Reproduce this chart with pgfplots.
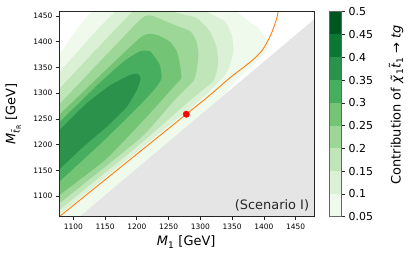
\documentclass[border=0pt]{standalone}
\usepackage{pgfplots}
\pgfplotsset{compat=1.18}
\usepackage{fontspec}
\setmainfont{DejaVu Sans}
\definecolor{ca}{RGB}{239,249,236}
\definecolor{cb}{RGB}{219,241,213}
\definecolor{cc}{RGB}{191,229,184}
\definecolor{cd}{RGB}{156,215,151}
\definecolor{ce}{RGB}{116,196,118}
\definecolor{cf}{RGB}{71,174,96}
\definecolor{cg}{RGB}{42,146,74}
\definecolor{ch}{RGB}{12,119,52}
\definecolor{ci}{RGB}{0,86,35}
\definecolor{grayreg}{RGB}{229,229,229}
\definecolor{orng}{RGB}{255,127,14}
\begin{document}
\begin{tikzpicture}
\begin{axis}[
  at={(0,0)}, anchor=south west,
  scale only axis, width=254.7bp, height=205bp,
  xmin=1078, xmax=1479, ymin=1060, ymax=1458,
  xtick={1100,1150,...,1450}, ytick={1100,1150,...,1450},
  tick pos=left, tick align=outside,
  major tick length=3.5bp,
  tick style={black!85, line width=0.6bp},
  axis line style={line width=0.8bp, black!85},
  ticklabel style={font=\fontsize{7.5}{9}\selectfont},
  /pgf/number format/assume math mode=true,
  /pgf/number format/set thousands separator={},
  axis on top,
  every axis plot/.append style={line join=round},
]
% region value >= 0.05
\addplot[fill=ca, draw=none, smooth, tension=0.3] coordinates {(1070,1364) (1078,1375) (1145,1470) (1355,1470) (1360,1455) (1391,1426) (1407,1400) (1404,1381) (1381,1352) (1360,1329) (1340,1299) (1330,1270) (1120,1040) (1070,1040)};
% >= 0.10
\addplot[fill=cb, draw=none, smooth, tension=0.3] coordinates {(1070,1330) (1078,1340) (1179,1470) (1305,1470) (1310,1458) (1339,1439) (1350,1410) (1352,1381) (1346,1352) (1339,1335) (1310,1298) (1278,1264) (1178,1164) (1078,1064) (1070,1056)};
% >= 0.15
\addplot[fill=cc, draw=none, smooth, tension=0.3] coordinates {(1070,1298) (1078,1308) (1204,1470) (1255,1470) (1257,1458) (1294,1446) (1315,1420) (1326,1387) (1328,1355) (1320,1323) (1284,1286) (1210,1206) (1078,1073) (1070,1065)};
% >= 0.20
\addplot[fill=cd, draw=none, smooth, tension=0.3] coordinates {(1070,1268) (1078,1278) (1205,1442) (1226,1449) (1252,1436) (1284,1420) (1294,1400) (1297,1374) (1294,1342) (1289,1323) (1270,1300) (1257,1283) (1205,1212) (1078,1086) (1070,1078)};
% >= 0.25
\addplot[fill=ce, draw=none, smooth, tension=0.3] coordinates {(1070,1250) (1078,1258) (1205,1407) (1231,1413) (1252,1400) (1263,1381) (1268,1355) (1270,1329) (1260,1315) (1237,1283) (1205,1240) (1150,1170) (1078,1102) (1070,1094)};
% >= 0.30
\addplot[fill=cf, draw=none, smooth, tension=0.3] coordinates {(1070,1234) (1078,1243) (1140,1318) (1180,1362) (1205,1381) (1221,1381) (1236,1355) (1239,1329) (1229,1309) (1205,1277) (1150,1210) (1078,1128) (1070,1120)};
% >= 0.35
\addplot[fill=cg, draw=none, smooth, tension=0.3] coordinates {(1070,1220) (1078,1228) (1121,1280) (1158,1315) (1189,1335) (1202,1337) (1206,1328) (1200,1306) (1184,1273) (1153,1235) (1116,1196) (1078,1152) (1070,1143)};
% excluded region
\addplot[fill=grayreg, draw=none] coordinates {(1100,1049.6) (1490,1454.4) (1490,1040) (1100,1040)};
% orange curve
\addplot[orng, line width=0.9bp, smooth] coordinates {(1078,1060) (1178,1159.5) (1278,1259) (1315,1296) (1346,1329) (1368,1350) (1385,1367) (1398,1384) (1407,1403) (1413,1419) (1418,1436) (1421,1448) (1423,1462)};
% benchmark point
\addplot[only marks, mark=*, mark size=3.2bp, color=red] coordinates {(1278,1259)};
\node[anchor=east, font=\fontsize{13}{15}\selectfont, text=black!85, inner sep=0pt] at ([xshift=-4.7bp,yshift=11bp]rel axis cs:1,0) {(Scenario I)};
\end{axis}
\begin{axis}[
  at={(270bp,0)}, anchor=south west,
  scale only axis, width=12.4bp, height=205bp,
  xmin=0, xmax=1, ymin=0.05, ymax=0.5,
  xtick=\empty,
  ytick={0.05,0.1,0.15,0.2,0.25,0.3,0.35,0.4,0.45,0.5},
  yticklabels={0.05,0.1,0.15,0.2,0.25,0.3,0.35,0.4,0.45,0.5},
  ytick pos=right, yticklabel pos=right, tick align=outside,
  major tick length=3.5bp,
  tick style={black!85, line width=0.6bp},
  axis line style={line width=0.8bp, black!60},
  ticklabel style={font=\fontsize{11}{13}\selectfont},
  axis on top,
]
\addplot[fill=ca, draw=none] coordinates {(0,0.05) (1,0.05) (1,0.1) (0,0.1)};
\addplot[fill=cb, draw=none] coordinates {(0,0.1) (1,0.1) (1,0.15) (0,0.15)};
\addplot[fill=cc, draw=none] coordinates {(0,0.15) (1,0.15) (1,0.2) (0,0.2)};
\addplot[fill=cd, draw=none] coordinates {(0,0.2) (1,0.2) (1,0.25) (0,0.25)};
\addplot[fill=ce, draw=none] coordinates {(0,0.25) (1,0.25) (1,0.3) (0,0.3)};
\addplot[fill=cf, draw=none] coordinates {(0,0.3) (1,0.3) (1,0.35) (0,0.35)};
\addplot[fill=cg, draw=none] coordinates {(0,0.35) (1,0.35) (1,0.4) (0,0.4)};
\addplot[fill=ch, draw=none] coordinates {(0,0.4) (1,0.4) (1,0.45) (0,0.45)};
\addplot[fill=ci, draw=none] coordinates {(0,0.45) (1,0.45) (1,0.5) (0,0.5)};
\end{axis}
\node[font=\fontsize{13}{15}\selectfont] at (126.9bp,-25.3bp) {\textit{M}\textsubscript{1} [GeV]};
\node[rotate=90, font=\fontsize{13}{15}\selectfont] at (-46bp,102.7bp) {\textit{M}\textsubscript{\textit{\~t}\textsubscript{R}} [GeV]};
\node[rotate=90, font=\fontsize{13}{15}\selectfont] at (336.7bp,112bp) {Contribution of \textit{\~χ}\textsubscript{1}\textit{\~t}\textsubscript{1} → \textit{tg}};
\pgfresetboundingbox
\path[use as bounding box] (-59.3bp,-44.3bp) rectangle (352.7bp,216.7bp);
\end{tikzpicture}
\end{document}
